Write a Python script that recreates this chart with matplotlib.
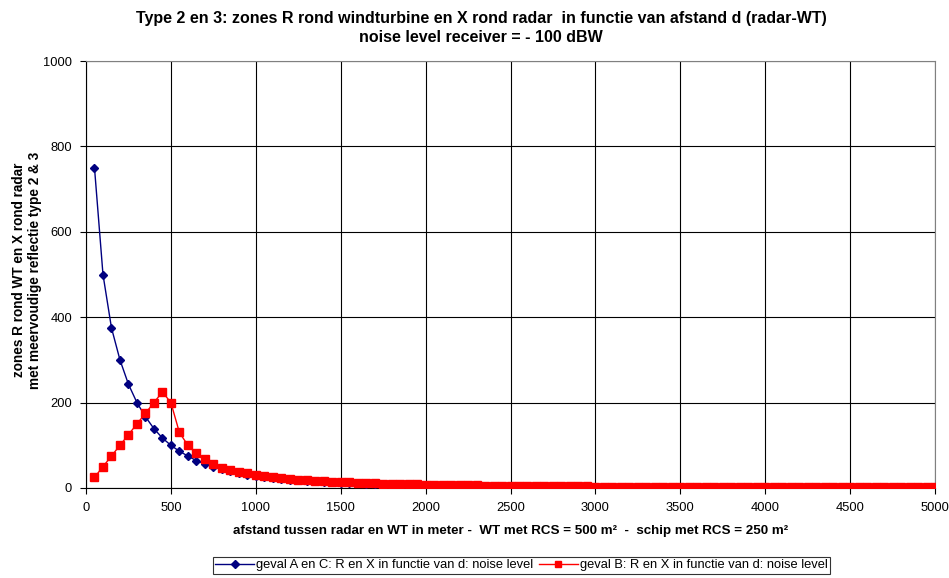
import matplotlib
matplotlib.use("Agg")
import matplotlib.pyplot as plt
from matplotlib.ticker import MultipleLocator

plt.rcParams['font.family'] = ['Liberation Sans', 'DejaVu Sans']

distance = list(range(50, 5001, 50))

blue_values = [
    750, 500, 375, 300, 243, 200, 167, 139, 117, 100,
    86, 75, 64, 56, 50, 44, 39, 35, 31,
    28.0, 25.4, 23.1, 21.2, 19.4, 17.9, 16.6, 15.4, 14.3, 13.3,
    12.4, 11.7, 10.9, 10.3, 9.7, 9.1, 8.6, 8.2, 7.8, 7.4,
    7.0, 6.7, 6.3, 6.1, 5.8, 5.5, 5.3, 5.1, 4.9, 4.7,
    4.5, 4.3, 4.1, 4.0, 3.8, 3.7, 3.6, 3.4, 3.3, 3.2,
    3.1, 3.0, 2.9, 2.8, 2.7, 2.7, 2.6, 2.5, 2.4, 2.4,
    2.3, 2.2, 2.2, 2.1, 2.0, 2.0, 1.9, 1.9, 1.8, 1.8,
    1.8, 1.7, 1.7, 1.6, 1.6, 1.6, 1.5, 1.5, 1.4, 1.4,
    1.4, 1.3, 1.3, 1.3, 1.3, 1.2, 1.2, 1.2, 1.2, 1.1,
    1.1,
]

red_values = [
    25, 50, 75, 100, 125, 150, 175, 200, 225, 200,
    130, 100, 81, 67, 56, 48, 42, 37, 34,
    31.0, 28.1, 25.6, 23.4, 21.5, 19.8, 18.3, 17.0, 15.8, 14.7,
    13.8, 12.9, 12.1, 11.4, 10.7, 10.1, 9.6, 9.1, 8.6, 8.2,
    7.8, 7.4, 7.0, 6.7, 6.4, 6.1, 5.9, 5.6, 5.4, 5.2,
    5.0, 4.8, 4.6, 4.4, 4.3, 4.1, 4.0, 3.8, 3.7, 3.6,
    3.4, 3.3, 3.2, 3.1, 3.0, 2.9, 2.8, 2.8, 2.7, 2.6,
    2.5, 2.5, 2.4, 2.3, 2.3, 2.2, 2.1, 2.1, 2.0, 2.0,
    1.9, 1.9, 1.8, 1.8, 1.8, 1.7, 1.7, 1.6, 1.6, 1.6,
    1.5, 1.5, 1.5, 1.4, 1.4, 1.4, 1.3, 1.3, 1.3, 1.3,
    1.2,
]

blue_label = "geval A en C: R en X in functie van d: noise level"
red_label = "geval B: R en X in functie van d: noise level"
title = ("Type 2 en 3: zones R rond windturbine en X rond radar  in functie van afstand d (radar-WT)\n"
         "noise level receiver = - 100 dBW")
xlabel = "afstand tussen radar en WT in meter -  WT met RCS = 500 m\u00b2  -  schip met RCS = 250 m\u00b2"
ylabel = "zones R rond WT en X rond radar\nmet meervoudige reflectie type 2 & 3"

W, H = 949, 578
fig = plt.figure(figsize=(W/100, H/100), dpi=100)
ax = fig.add_axes([86/W, 1-488/H, (935-86)/W, (488-61)/H])

ax.plot(distance, blue_values, color='#000080', marker='D', markersize=4.5,
        linewidth=1.0, label=blue_label, zorder=3)
ax.plot(distance, red_values, color='#FF0000', marker='s', markersize=5.5,
        linewidth=1.0, label=red_label, zorder=4)

ax.set_xlim(0, 5000)
ax.set_ylim(0, 1000)
ax.xaxis.set_major_locator(MultipleLocator(500))
ax.yaxis.set_major_locator(MultipleLocator(200))
ax.grid(True, color='black', linewidth=0.8)
ax.set_axisbelow(True)
for s in ['top', 'right']:
    ax.spines[s].set_color('#808080')
    ax.spines[s].set_linewidth(0.8)
for s in ['left', 'bottom']:
    ax.spines[s].set_color('black')
    ax.spines[s].set_linewidth(0.8)
ax.tick_params(direction='out', length=4, width=0.8, labelsize=9.3, pad=6)

fig.text(481/W, 1-28/H, title, fontsize=11.5, fontweight='bold',
         ha='center', va='center', linespacing=1.25)
ax.set_xlabel(xlabel, fontsize=9.6, fontweight='bold', labelpad=8)
fig.text(27/W, 1-270/H, ylabel, fontsize=9.8, fontweight='bold', rotation=90,
         ha='center', va='center', multialignment='center', linespacing=1.15)

leg = fig.legend(loc='lower center', bbox_to_anchor=(521.5/W, -0.004), ncol=2,
                 fontsize=9.3, frameon=True, fancybox=False, edgecolor='black',
                 handlelength=3, columnspacing=0.4, handletextpad=0.2,
                 borderpad=0.2, markerscale=0.85)
leg.get_frame().set_linewidth(0.8)

fig.savefig('out.png', dpi=100)
